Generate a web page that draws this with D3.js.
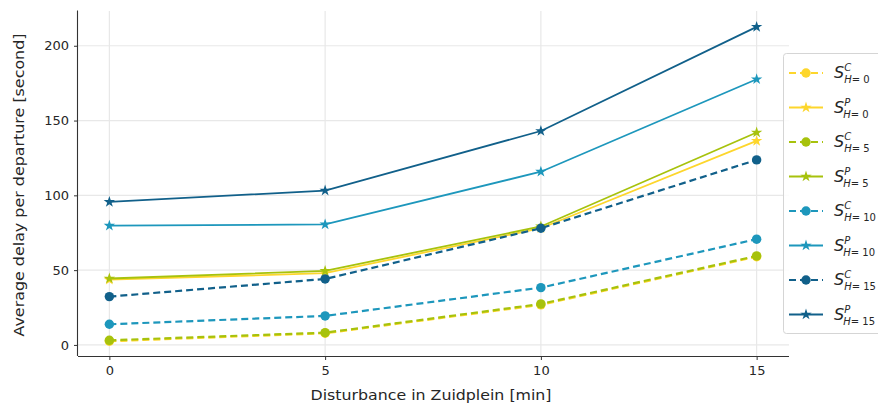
<!DOCTYPE html>
<html>
<head>
<meta charset="utf-8">
<script src="https://d3js.org/d3.v7.min.js"></script>
<style>
  body { margin: 0; background: #fff; }
  text { font-family: "DejaVu Sans", sans-serif; fill: #262626; }
</style>
</head>
<body>
<div id="chart"></div>
<script>
// Data
const disturbance = [0, 5, 10, 15]
const xTicks = [0, 5, 10, 15]
const yTicks = [0, 50, 100, 150, 200]

const sC0 = [2.5, 7.8, 26.8, 59.0]
const sP0 = [43.6, 48.0, 78.0, 136.4]
const sC5 = [3.1, 8.2, 27.4, 59.5]
const sP5 = [44.4, 49.5, 79.2, 142.0]
const sC10 = [13.8, 19.4, 38.3, 70.7]
const sP10 = [79.7, 80.6, 115.8, 177.6]
const sC15 = [32.3, 44.1, 78.0, 123.7]
const sP15 = [95.6, 103.2, 143.0, 212.6]

const seriesNames = ["C0", "P0", "C5", "P5", "C10", "P10", "C15", "P15"]
const seriesValues = [sC0, sP0, sC5, sP5, sC10, sP10, sC15, sP15]

const colors = {
  "0": "#fdd62c",
  "5": "#a7c20c",
  "10": "#1d97bc",
  "15": "#11608a"
}

const series = seriesNames.map((name, i) => ({
  kind: name[0],
  h: name.slice(1),
  values: seriesValues[i]
}))

// Dimensions
const width = 878, height = 405

const svg = d3.select("#chart")
  .append("svg")
  .attr("width", width)
  .attr("height", height)

// Scales
const xScale = d3.scaleLinear()
  .domain([-0.75, 15.75])
  .range([77, 789])

const yScale = d3.scaleLinear()
  .domain([-7.4, 223.5])
  .range([356, 10.6])

// Grid
svg.append("g")
  .selectAll("line")
  .data(yTicks)
  .join("line")
  .attr("x1", 78).attr("x2", 789)
  .attr("y1", d => yScale(d)).attr("y2", d => yScale(d))
  .attr("stroke", "#e8e8e8")
  .attr("stroke-width", 1.2)

svg.append("g")
  .selectAll("line")
  .data(xTicks)
  .join("line")
  .attr("y1", 11).attr("y2", 356)
  .attr("x1", d => xScale(d)).attr("x2", d => xScale(d))
  .attr("stroke", "#e8e8e8")
  .attr("stroke-width", 1.2)

// Axes
const xAxis = svg.append("g")
  .attr("transform", "translate(0,356)")
  .call(d3.axisBottom(xScale).tickValues(xTicks).tickSize(4).tickPadding(6))
const yAxis = svg.append("g")
  .attr("transform", "translate(78,0)")
  .call(d3.axisLeft(yScale).tickValues(yTicks).tickSize(4).tickPadding(5))

;[xAxis, yAxis].forEach(a => {
  a.selectAll("text").attr("font-size", 13).attr("font-family", "DejaVu Sans").attr("fill", "#262626")
  a.selectAll("line").attr("stroke", "#333")
  a.select(".domain").attr("stroke", "#333").attr("stroke-width", 1.1)
})
// despine: keep only axis line from plot edge
xAxis.select(".domain").attr("d", "M78,0.5H789")
yAxis.select(".domain").attr("d", "M-0.5,356V10.6")

svg.append("text")
  .attr("x", 431).attr("y", 400)
  .attr("text-anchor", "middle")
  .attr("font-size", 14)
  .attr("textLength", 241)
  .attr("lengthAdjust", "spacingAndGlyphs")
  .text("Disturbance in Zuidplein [min]")

svg.append("text")
  .attr("transform", "translate(24,185) rotate(-90)")
  .attr("text-anchor", "middle")
  .attr("font-size", 14)
  .attr("textLength", 303)
  .attr("lengthAdjust", "spacingAndGlyphs")
  .text("Average delay per departure [second]")

// Lines
const line = d3.line()
  .x((d, i) => xScale(disturbance[i]))
  .y(d => yScale(d))

const star = d3.symbol().type(d3.symbolStar).size(40)
const circle = d3.symbol().type(d3.symbolCircle).size(70)

const plot = svg.append("g")

series.forEach(s => {
  const g = plot.append("g")
  g.append("path")
    .datum(s.values)
    .attr("d", line)
    .attr("fill", "none")
    .attr("stroke", colors[s.h])
    .attr("stroke-width", s.kind === "C" ? 2.2 : 1.8)
    .attr("stroke-dasharray", s.kind === "C" ? "7,4" : null)
  g.selectAll("path.m")
    .data(s.values)
    .join("path")
    .attr("class", "m")
    .attr("transform", (d, i) => `translate(${xScale(disturbance[i])},${yScale(d)})`)
    .attr("d", s.kind === "C" ? circle : star)
    .attr("fill", colors[s.h])
})

// Legend
const legend = svg.append("g").attr("transform", "translate(783,53)")
legend.append("rect")
  .attr("x", 0.5).attr("y", 0.5)
  .attr("width", 110).attr("height", 280)
  .attr("rx", 3)
  .attr("fill", "#fff").attr("fill-opacity", 0.85)
  .attr("stroke", "#d5d5d5")

series.forEach((s, i) => {
  const y = 20 + i * 34.5
  const row = legend.append("g").attr("transform", `translate(0,${y})`)
  row.append("line")
    .attr("x1", 6).attr("x2", 40)
    .attr("stroke", colors[s.h])
    .attr("stroke-width", s.kind === "C" ? 2.2 : 1.8)
    .attr("stroke-dasharray", s.kind === "C" ? "7,4" : null)
  row.append("path")
    .attr("transform", "translate(23,0)")
    .attr("d", s.kind === "C" ? circle : star)
    .attr("fill", colors[s.h])
  const t = row.append("text")
    .attr("x", 51).attr("y", 5)
    .attr("font-size", 16)
    .attr("font-style", "italic")
  t.append("tspan").text("S")
  t.append("tspan").attr("font-size", 10).attr("dy", -7).attr("dx", 0).text(s.kind)
  t.append("tspan").attr("font-size", 10).attr("dy", 12).attr("dx", -7).text("H")
  t.append("tspan").attr("font-size", 10).attr("font-style", "normal").text("= " + s.h)
})
</script>
</body>
</html>
